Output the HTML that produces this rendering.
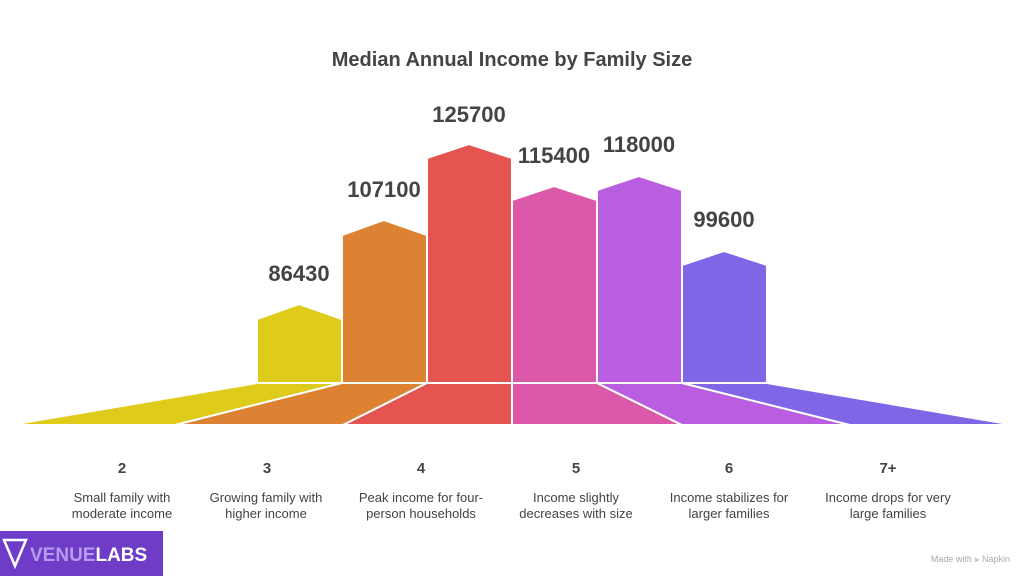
<!DOCTYPE html>
<html><head><meta charset="utf-8"><style>
body{margin:0;width:1024px;height:576px;background:#fff;overflow:hidden;font-family:"Liberation Sans",sans-serif}
</style></head><body>
<svg width="1024" height="576" viewBox="0 0 1024 576" xmlns="http://www.w3.org/2000/svg" font-family="Liberation Sans, sans-serif">
<text x="512" y="66" text-anchor="middle" font-size="20" font-weight="bold" fill="#444">Median Annual Income by Family Size</text>
<g stroke="#fff" stroke-width="2" stroke-linejoin="miter">
<polygon points="10,425 175,425 342,383 257,383" fill="#dfcb1a"/>
<polygon points="175,425 343,425 427,383 342,383" fill="#dd8232"/>
<polygon points="343,425 512,425 512,383 427,383" fill="#e45552"/>
<polygon points="512,425 682,425 597,383 512,383" fill="#dc58a8"/>
<polygon points="682,425 850,425 682,383 597,383" fill="#b95ee0"/>
<polygon points="850,425 1014,425 767,383 682,383" fill="#7e66e6"/>
<polygon points="257,383 257,319 299,304 342,319 342,383" fill="#dfcb1a"/>
<polygon points="342,383 342,235 384,220 427,235 427,383" fill="#dd8232"/>
<polygon points="427,383 427,158 469,144 512,158 512,383" fill="#e45552"/>
<polygon points="512,383 512,200 554,186 597,200 597,383" fill="#dc58a8"/>
<polygon points="597,383 597,190 639,176 682,190 682,383" fill="#b95ee0"/>
<polygon points="682,383 682,265 724,251 767,265 767,383" fill="#7e66e6"/>
</g>
<g font-size="22" font-weight="bold" fill="#444" text-anchor="middle">
<text x="299" y="281">86430</text>
<text x="384" y="197">107100</text>
<text x="469" y="122">125700</text>
<text x="554" y="163">115400</text>
<text x="639" y="152">118000</text>
<text x="724" y="227">99600</text>
</g>
<g font-size="15" font-weight="bold" fill="#444" text-anchor="middle">
<text x="122" y="473">2</text><text x="267" y="473">3</text><text x="421" y="473">4</text>
<text x="576" y="473">5</text><text x="729" y="473">6</text><text x="888" y="473">7+</text>
</g>
<g font-size="13" fill="#444" text-anchor="middle">
<text x="122" y="502">Small family with</text><text x="122" y="518">moderate income</text>
<text x="266" y="502">Growing family with</text><text x="266" y="518">higher income</text>
<text x="421" y="502">Peak income for four-</text><text x="421" y="518">person households</text>
<text x="576" y="502">Income slightly</text><text x="576" y="518">decreases with size</text>
<text x="729" y="502">Income stabilizes for</text><text x="729" y="518">larger families</text>
<text x="888" y="502">Income drops for very</text><text x="888" y="518">large families</text>
</g>
<rect x="0" y="531" width="163" height="45" fill="#6e3cc6"/>
<polygon points="4,540 26,540 15,566" fill="none" stroke="#fff" stroke-width="2.5"/>
<text x="30" y="561" font-size="19" font-weight="bold" fill="#b79bf2">VENUE<tspan fill="#fff">LABS</tspan></text>
<text x="1010" y="562" font-size="9" fill="#aaa" text-anchor="end">Made with ⫸ Napkin</text>
</svg>
</body></html>
